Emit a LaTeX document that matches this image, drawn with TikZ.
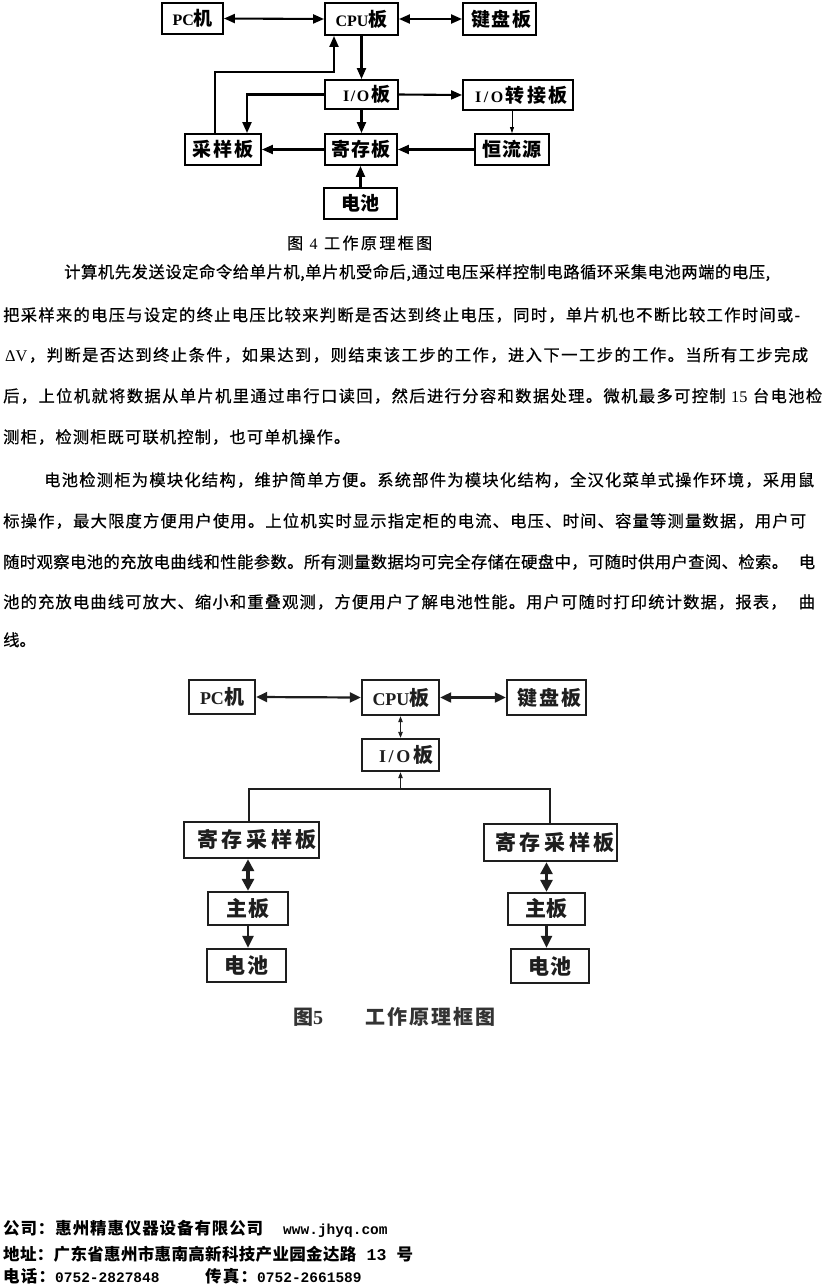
\documentclass[tikz,border=0pt]{standalone}
\usepackage{fontspec}
\setmainfont{Noto Sans CJK SC}
\newfontfamily\bodyf{Noto Sans CJK SC}[FakeBold=0.6]
\newfontfamily\lat{Liberation Serif}
\newfontfamily\mono{Liberation Mono}
\usetikzlibrary{arrows.meta}
\definecolor{c5}{HTML}{1E1E1E}
\definecolor{cap5}{HTML}{333333}
\newcommand\fs[1]{\fontsize{#1}{#1}\selectfont}
\makeatletter
\def\spr#1{\hskip0pt plus -1fil\relax\spr@a#1\@nil}
\def\spr@a#1{\ifx\@nil#1\else\hskip0pt plus 1fil\relax{#1}\expandafter\spr@a\fi}
\makeatother
\tikzset{
  bx4/.style={draw, line width=1.9pt, inner sep=0pt, font=\bfseries\fs{19}},
  ar4/.style={line width=2.1pt, -{Triangle[length=11pt,width=9pt]}},
  ard4/.style={line width=2.1pt, {Triangle[length=11pt,width=9pt]}-{Triangle[length=11pt,width=9pt]}},
  art4/.style={line width=0.8pt, -{Triangle[length=6pt,width=4pt]}},
  bx5/.style={draw=c5, line width=2.4pt, inner sep=0pt, font=\bfseries\fs{21}, text=c5},
  ln5/.style={draw=c5, line width=2.2pt},
  ard5/.style={draw=c5, line width=2.2pt, {Triangle[length=11pt,width=10pt]}-{Triangle[length=11pt,width=10pt]}},
  arb5/.style={draw=c5, line width=3.2pt, {Triangle[length=12pt,width=12pt]}-{Triangle[length=12pt,width=12pt]}},
  ar5/.style={draw=c5, line width=2.6pt, -{Triangle[length=12pt,width=11pt]}},
  art5/.style={draw=c5, line width=0.9pt, -{Triangle[length=6pt,width=4.5pt]}},
  artd5/.style={draw=c5, line width=0.9pt, {Triangle[length=6pt,width=4.5pt]}-{Triangle[length=6pt,width=4.5pt]}},
  txt/.style={anchor=base west, inner sep=0pt, font=\bodyf\fs{16.3}},
  ftr/.style={anchor=base west, inner sep=0pt, font=\bfseries\fs{16.5}},
  mon/.style={anchor=base west, inner sep=0pt, font=\mono\bfseries\fs{14.5}}
}
\begin{document}
\begin{tikzpicture}[x=1pt,y=-1pt]
\useasboundingbox[fill=white] (0,0) rectangle (825,1286);

% ---------------- Figure 4 ----------------
\node[bx4, minimum width=61pt, minimum height=31pt] (pc) at (192.5,18.5) {\hbox to 40pt{\spr{{\lat\fs{16}P}{\lat\fs{16}C}机}}};
\node[bx4, minimum width=73pt, minimum height=32pt] (cpu) at (361.5,19) {\hbox to 52pt{\spr{{\lat\fs{16}C}{\lat\fs{16}P}{\lat\fs{16}U}板}}};
\node[bx4, minimum width=73pt, minimum height=32pt] (kb) at (499.5,19) {\hspace*{4pt}\hbox to 61pt{\spr{键盘板}}};
\node[bx4, minimum width=73pt, minimum height=29pt] (io) at (361.5,94.5) {\hspace*{10pt}\hbox to 47pt{\spr{{\lat\fs{16}I}{\lat\fs{16}/}{\lat\fs{16}O}板}}};
\node[bx4, minimum width=110pt, minimum height=30pt] (iot) at (518,95) {\hspace*{7pt}\hbox to 93pt{\spr{{\lat\fs{16}I}{\lat\fs{16}/}{\lat\fs{16}O}转接板}}};
\node[bx4, minimum width=76pt, minimum height=31pt] (cy) at (223,149.5) {\hbox to 61pt{\spr{采样板}}};
\node[bx4, minimum width=72pt, minimum height=31pt] (jc) at (361,149.5) {\hbox to 59pt{\spr{寄存板}}};
\node[bx4, minimum width=74pt, minimum height=31pt] (hl) at (512,149.5) {\hbox to 60pt{\spr{恒流源}}};
\node[bx4, minimum width=73pt, minimum height=31pt] (dc) at (360.5,203.5) {\hbox to 38pt{\spr{电池}}};

\coordinate (t1) at (334,72);
\draw[ard4] (pc.east) -- (cpu.west);
\draw[ard4] (cpu.east) -- (kb.west);
\draw[ar4] (cpu.south) -- (io.north);
\draw[ar4] ([xshift=-8pt]cy.north) |- (t1) -- (t1 |- cpu.south);
\draw[ar4] (io.west) -| ([xshift=24pt]cy.north);
\draw[ar4] (io.south) -- (io.south |- jc.north);
\draw[ar4] (io.east) -- (iot.west);
\draw[art4] (hl.north |- iot.south) -- (hl.north);
\draw[ar4] (hl.west) -- (jc.east);
\draw[ar4] (jc.west) -- (cy.east);
\draw[ar4] (dc.north) -- (dc.north |- jc.south);

\node[anchor=base west, inner sep=0pt, font=\bodyf\fs{16}] (cap4) at (287,249) {\hbox to 145pt{\spr{图{\lat\ 4\ }工作原理框图}}};

% ---------------- Body text ----------------
\node[txt] (l1) at (64,278) {\hbox to 706pt{\spr{计算机先发送设定命令给单片机,单片机受命后,通过电压采样控制电路循环采集电池两端的电压,}}};
\node[txt] (l2) at (3,321) {\hbox to 797pt{\spr{把采样来的电压与设定的终止电压比较来判断是否达到终止电压，同时，单片机也不断比较工作时间或-}}};
\node[txt] (l3) at (5,361) {\hbox to 803pt{\spr{{\lat ΔV}，判断是否达到终止条件，如果达到，则结束该工步的工作，进入下一工步的工作。当所有工步完成}}};
\node[txt] (l4) at (3,402) {\hbox to 819pt{\spr{后，上位机就将数据从单片机里通过串行口读回，然后进行分容和数据处理。微机最多可控制{\lat\ 15\ }台电池检}}};
\node[txt] (l5) at (3,443) {\hbox to 347pt{\spr{测柜，检测柜既可联机控制，也可单机操作。}}};
\node[txt] (l6) at (44,486) {\hbox to 770pt{\spr{电池检测柜为模块化结构，维护简单方便。系统部件为模块化结构，全汉化菜单式操作环境，采用鼠}}};
\node[txt] (l7) at (3,527) {\hbox to 803pt{\spr{标操作，最大限度方便用户使用。上位机实时显示指定柜的电流、电压、时间、容量等测量数据，用户可}}};
\node[txt] (l8) at (3,568) {\hbox to 812pt{\spr{随时观察电池的充放电曲线和性能参数。所有测量数据均可完全存储在硬盘中，可随时供用户查阅、检索。{\hspace*{10pt}}电}}};
\node[txt] (l9) at (3,608) {\hbox to 812pt{\spr{池的充放电曲线可放大、缩小和重叠观测，方便用户了解电池性能。用户可随时打印统计数据，报表，{\hspace*{10pt}}曲}}};
\node[txt] (l10) at (3,646) {线。};

% ---------------- Figure 5 ----------------
\node[bx5, minimum width=66pt, minimum height=34pt, font=\bfseries\fs{20}] (pc5) at (222,697) {\hbox to 44pt{\spr{{\lat\fs{18}P}{\lat\fs{18}C}机}}};
\node[bx5, minimum width=77pt, minimum height=35pt, font=\bfseries\fs{20}] (cpu5) at (400.5,697.5) {\hbox to 56pt{\spr{{\lat\fs{18}C}{\lat\fs{18}P}{\lat\fs{18}U}板}}};
\node[bx5, minimum width=79pt, minimum height=35pt, font=\bfseries\fs{20}] (kb5) at (546.5,697.5) {\hspace*{6pt}\hbox to 65pt{\spr{键盘板}}};
\node[bx5, minimum width=77pt, minimum height=32pt, font=\bfseries\fs{20}] (io5) at (400.5,755) {\hspace*{11pt}\hbox to 54pt{\spr{{\lat\fs{18}I}{\lat\fs{18}/}{\lat\fs{18}O}板}}};

\node[bx5, minimum width=135pt, minimum height=36pt] (L1) at (251.5,840) {\hspace*{11pt}\hbox to 120pt{\spr{寄存采样板}}};
\node[bx5, minimum width=80pt, minimum height=33pt] (L2) at (248,908.5) {\hbox to 44pt{\spr{主板}}};
\node[bx5, minimum width=79pt, minimum height=33pt] (L3) at (246.5,965.5) {\hbox to 45pt{\spr{电池}}};
\node[bx5, minimum width=133pt, minimum height=37pt] (R1) at (550.5,842.5) {\hspace*{9pt}\hbox to 120pt{\spr{寄存采样板}}};
\node[bx5, minimum width=77pt, minimum height=32pt] (R2) at (546.5,909) {\hbox to 43pt{\spr{主板}}};
\node[bx5, minimum width=78pt, minimum height=34pt] (R3) at (550,966) {\hbox to 43pt{\spr{电池}}};

\coordinate (bl) at (249,789);
\coordinate (br) at (550,789);
\draw[ard5] (pc5.east) -- (cpu5.west);
\draw[ard5] (cpu5.east) -- (kb5.west);
\draw[artd5] (cpu5.south) -- (io5.north);
\draw[art5] (io5.south |- bl) -- (io5.south);
\draw[ln5] (bl |- L1.north) -- (bl) -- (br) -- (br |- R1.north);
\draw[arb5] (L2.north |- L1.south) -- (L2.north);
\draw[ar5] (L2.south) -- (L2.south |- L3.north);
\draw[arb5] (R2.north |- R1.south) -- (R2.north);
\draw[ar5] (R2.south) -- (R2.south |- R3.north);

\node[anchor=base west, inner sep=0pt, font=\bfseries\fs{20}, text=cap5] (cap5a) at (293,1024) {图{\lat 5}};
\node[anchor=base west, inner sep=0pt, font=\bfseries\fs{20}, text=cap5] (cap5b) at (365,1024) {\hbox to 130pt{\spr{工作原理框图}}};

% ---------------- Footer ----------------
\node[ftr] (f1a) at (3,1234) {\hbox to 260pt{\spr{公司：惠州精惠仪器设备有限公司}}};
\node[mon] (f1b) at (283,1234) {www.jhyq.com};
\node[ftr] (f2) at (3,1260) {\hbox to 410pt{\spr{地址：广东省惠州市惠南高新科技产业园金达路{\mono\ 13\ }号}}};
\node[ftr] (f3a) at (3,1282) {\hbox to 52pt{\spr{电话：}}};
\node[mon] (f3b) at (55,1282) {0752-2827848};
\node[ftr] (f3c) at (205,1282) {\hbox to 52pt{\spr{传真：}}};
\node[mon] (f3d) at (257,1282) {0752-2661589};
\end{tikzpicture}
\end{document}
